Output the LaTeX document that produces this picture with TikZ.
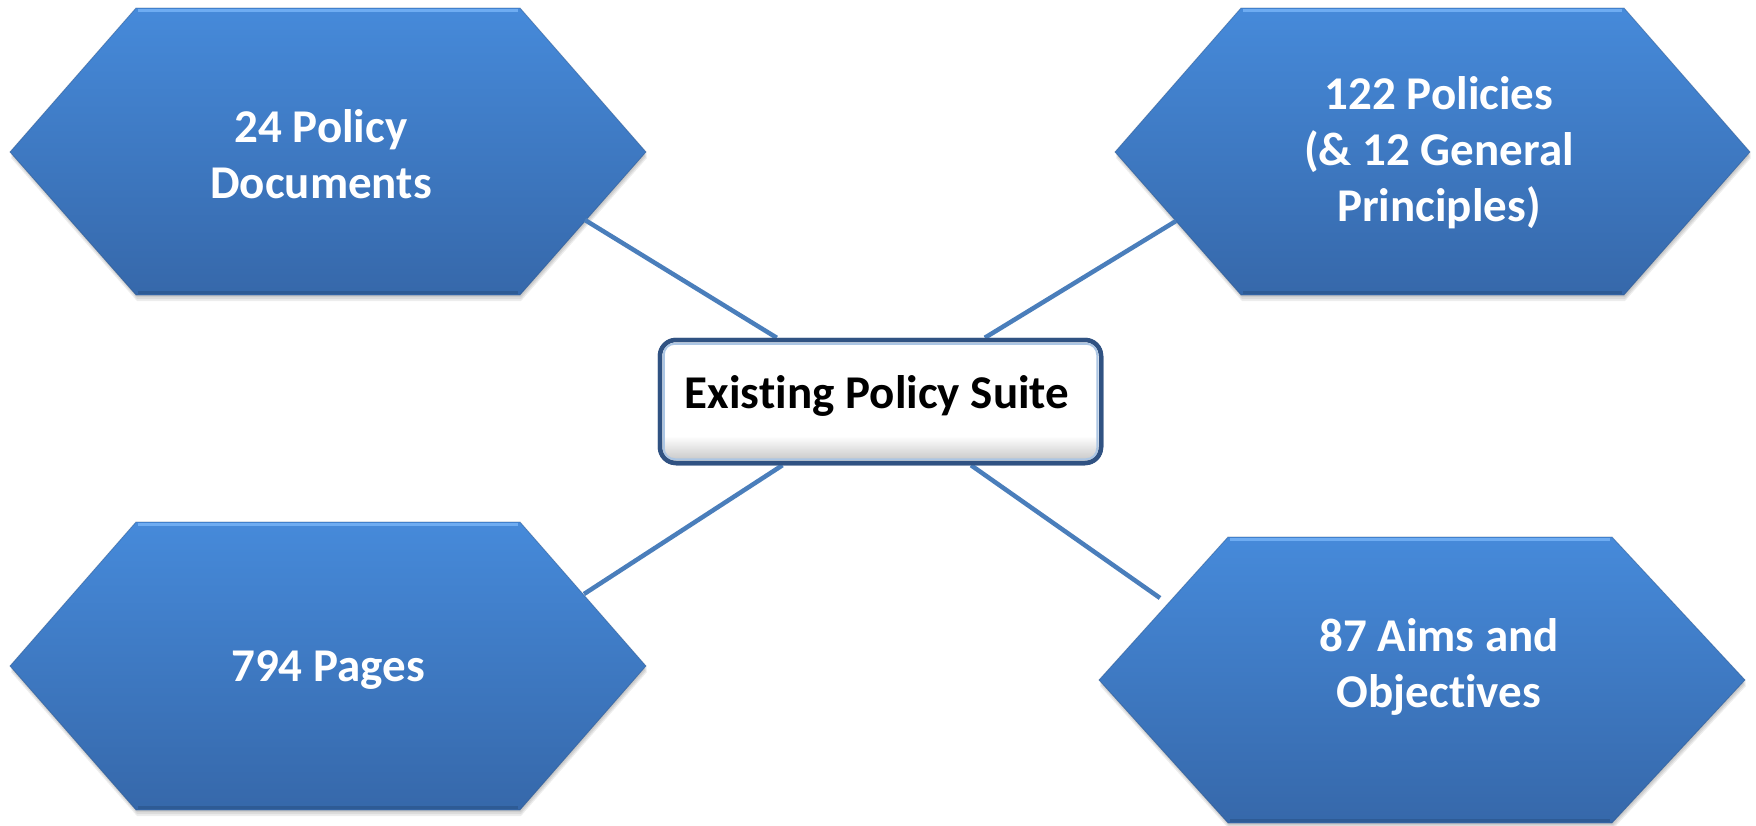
\documentclass[tikz,border=0pt]{standalone}
\usepackage{fontspec}
\setmainfont[Ligatures=NoCommon]{Carlito}
\usetikzlibrary{calc}
\definecolor{hextop}{RGB}{70,138,218}
\definecolor{hexbot}{RGB}{54,104,170}
\definecolor{hexhi}{RGB}{110,172,242}
\definecolor{hexlo}{RGB}{44,86,140}
\definecolor{conn}{RGB}{74,126,187}
\definecolor{boxline}{RGB}{48,82,130}
\definecolor{boxinner}{RGB}{172,198,228}
\pgfdeclareverticalshading{boxshade}{100bp}{color(0bp)=(black!24); color(25bp)=(black!24); color(36bp)=(white); color(100bp)=(white)}
\newcommand\hexshape[7]{%
  \foreach \s in {2,4,6}{\fill[black,opacity=0.07,yshift=-\s pt,xshift=1pt] (#1,#6)--(#2,#5)--(#3,#5)--(#4,#6)--(#3,#7)--(#2,#7)--cycle;}
  \path[hexfill] (#1,#6)--(#2,#5)--(#3,#5)--(#4,#6)--(#3,#7)--(#2,#7)--cycle;
  \draw[hexhi,line width=3pt] (#2+2,#5+2.5)--(#3-2,#5+2.5);
  \draw[hexlo,line width=3pt,opacity=0.7] (#2+2,#7-2.5)--(#3-2,#7-2.5);
}
\begin{document}
\begin{tikzpicture}[x=1pt,y=-1pt,
  hexfill/.style={top color=hextop,bottom color=hexbot,draw=hexlo,draw opacity=0.5,line width=0.8pt},
  hextext/.style={text=white,align=center,font=\bfseries\fontsize{47}{56}\selectfont,inner sep=0pt},
  link/.style={draw=conn,line width=4.5pt},
  centerbox/.style={minimum width=441pt,minimum height=123pt,rounded corners=16pt,draw=boxline,line width=4.5pt,shading=boxshade},
  titletext/.style={font=\bfseries\fontsize{47}{56}\selectfont,text=black,inner sep=0pt}]
\useasboundingbox (0,0) rectangle (1756,825);
\fill[white] (0,0) rectangle (1756,825);
% hexagons
\hexshape{10}{136}{520}{646}{8}{152}{295}
\hexshape{1115}{1241}{1624}{1750}{8}{152}{295}
\hexshape{10}{136}{520}{646}{522}{666}{810}
\hexshape{1099}{1228}{1612}{1745}{537}{680}{823}
\node[hextext] (t1) at (321,154) {24 Policy\\Documents};
\node[hextext] (t2) at (1439,153) {122 Policies\\(\& 12 General\\Principles)};
\node[hextext] (t3) at (328,670) {794 Pages};
\node[hextext] (t4) at (1439,667) {87 Aims and\\Objec\kern0pt t\kern0pt ives};
% connector start points on hexagon edges
\coordinate (c1) at (585,220);
\coordinate (c2) at (1176,221);
\coordinate (c3) at (584,594);
\coordinate (c4) at (1160,598);
% centre box
\node[centerbox] (box) at (880.5,401.5) {};
\draw[link] (c1) -- (box);
\draw[link] (c2) -- (box);
\draw[link] (c3) -- (box);
\draw[link] (c4) -- (box);
\node[centerbox] at (box.center) {};
\draw[boxinner,line width=2pt,rounded corners=11pt] ($(box.north west)+(6,6)$) rectangle ($(box.south east)+(-6,-6)$);
\node[titletext,anchor=base] (title) at (877,408) {Exis\kern0pt t\kern0pt ing Policy Suite};
\end{tikzpicture}
\end{document}
